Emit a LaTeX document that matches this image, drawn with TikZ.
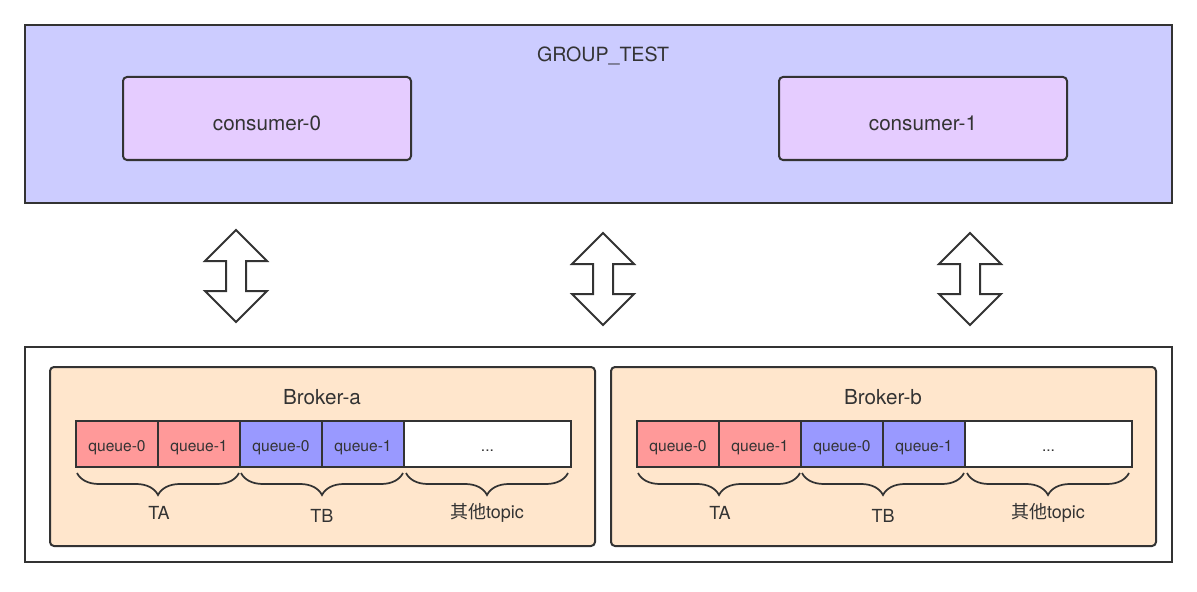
\documentclass[tikz,border=0pt]{standalone}
\usepackage{fontspec}
\setmainfont{TeX Gyre Heros}
\newfontfamily\cjk{Noto Sans CJK SC}
\usetikzlibrary{decorations.pathreplacing}
\definecolor{linec}{HTML}{333333}
\definecolor{groupc}{HTML}{CCCCFF}
\definecolor{consc}{HTML}{E5CCFF}
\definecolor{brokc}{HTML}{FFE6CC}
\definecolor{redq}{HTML}{FF9999}
\definecolor{blueq}{HTML}{9999FF}
\tikzset{
  frame/.style={draw=linec, line width=1.5pt},
  consbox/.style={draw=linec, line width=1.5pt, fill=consc, rounded corners=3pt},
  brokbox/.style={draw=linec, line width=1.5pt, fill=brokc, rounded corners=3pt},
  qbox/.style={draw=linec, line width=1.5pt, inner sep=0pt, font=\fontsize{11.7}{14}\selectfont, text=linec,
    text height=13.5pt, text depth=2.5pt, minimum height=46*0.75pt},
  biglabel/.style={font=\fontsize{15.5}{18}\selectfont, text=linec, inner sep=0pt},
  grouplabel/.style={font=\fontsize{14.7}{17}\selectfont, text=linec, inner sep=0pt},
  toplabel/.style={font=\fontsize{13.5}{16}\selectfont, text=linec, inner sep=0pt},
  bracec/.style={draw=linec, line width=1.3pt, decorate, decoration={brace, mirror, amplitude=16.5pt}},
  blockarrow/.style={draw=linec, line width=1.5pt, fill=white, line join=miter},
}
\begin{document}
\begin{tikzpicture}[x=0.75pt, y=-0.75pt]
\useasboundingbox (0,0) rectangle (1197,592);
% top group
\draw[frame, fill=groupc] (25,25) rectangle (1172,203);
\node[grouplabel] (group) at (603,56) {GROUP\_TEST};
\draw[consbox] (123,77) rectangle (411,160);
\node[biglabel] (c0) at (267,123) {consumer-0};
\draw[consbox] (779,77) rectangle (1067,160);
\node[biglabel] (c1) at (923,123) {consumer-1};
% block arrows
\foreach \cx/\ty in {236/230, 603/233, 970/233}{
  \draw[blockarrow] (\cx,\ty) -- ++(31,31) -- ++(-21,0) -- ++(0,30) -- ++(21,0)
    -- ++(-31,31) -- ++(-31,-31) -- ++(21,0) -- ++(0,-30) -- ++(-21,0) -- cycle;
}
% bottom frame
\draw[frame, fill=white] (25,347) rectangle (1172,562);
% brokers
\foreach \ox/\name/\lab in {0/a/Broker-a, 561/b/Broker-b}{
  \begin{scope}[xshift=\ox*0.75pt]
    \draw[brokbox] (50,367) rectangle (595,546);
    \node[biglabel] (broker\name) at (322,397) {\lab};
    \node[qbox, fill=redq, minimum width=82*0.75pt] (ta0\name) at (117,444) {queue-0};
    \node[qbox, fill=redq, minimum width=82*0.75pt] (ta1\name) at (199,444) {queue-1};
    \node[qbox, fill=blueq, minimum width=82*0.75pt] (tb0\name) at (281,444) {queue-0};
    \node[qbox, fill=blueq, minimum width=82*0.75pt] (tb1\name) at (363,444) {queue-1};
    \node[qbox, fill=white, minimum width=167*0.75pt] (oth\name) at (487.5,444) {...};
    \draw[bracec] (77,473) -- (239,473);
    \draw[bracec] (241,473) -- (403,473);
    \draw[bracec] (406,473) -- (568,473);
    \node[toplabel] (lta\name) at (159,513) {TA};
    \node[toplabel] (ltb\name) at (322,516) {TB};
    \node[toplabel] (lot\name) at (487,513) {{\cjk 其他}topic};
  \end{scope}
}
\end{tikzpicture}
\end{document}
